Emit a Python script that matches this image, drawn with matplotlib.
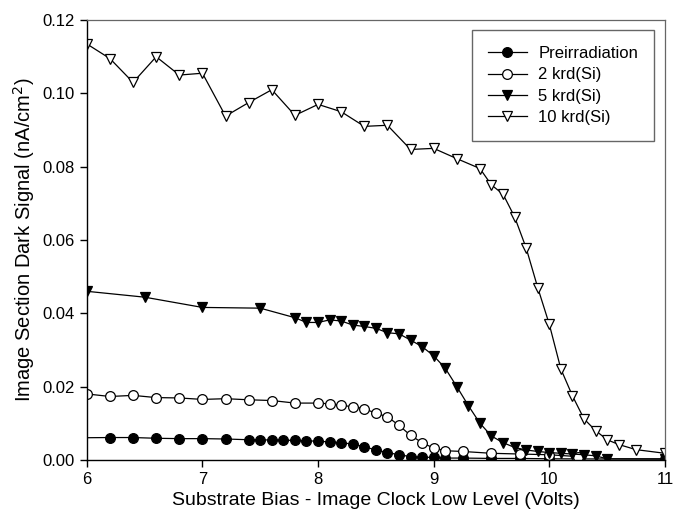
import matplotlib
matplotlib.use("Agg")
import matplotlib.pyplot as plt
from matplotlib.ticker import FormatStrFormatter

plt.rcParams['font.family'] = ['Liberation Sans', 'DejaVu Sans']

# Preirradiation
x_pre = [5.8, 6.2, 6.4, 6.6, 6.8, 7.0, 7.2, 7.4, 7.5, 7.6, 7.7, 7.8, 7.9, 8.0, 8.1, 8.2,
         8.3, 8.4, 8.5, 8.6, 8.7, 8.8, 8.9, 9.0, 9.1, 9.25, 9.5, 9.75, 10.0, 11.0]
y_pre = [0.0060, 0.0061, 0.0061, 0.0059, 0.0058, 0.0058, 0.0057, 0.0055, 0.0055, 0.0054,
         0.0054, 0.0053, 0.0052, 0.0051, 0.0049, 0.0047, 0.0043, 0.0036, 0.0027, 0.0020,
         0.0014, 0.0009, 0.0007, 0.0007, 0.0005, 0.0005, 0.0004, 0.0004, 0.0003, 0.0002]

# 2 krd(Si)
x_2k = [6.0, 6.2, 6.4, 6.6, 6.8, 7.0, 7.2, 7.4, 7.6, 7.8, 8.0, 8.1, 8.2, 8.3, 8.4, 8.5,
        8.6, 8.7, 8.8, 8.9, 9.0, 9.1, 9.25, 9.5, 9.75, 10.0, 10.25]
y_2k = [0.0180, 0.0173, 0.0176, 0.0170, 0.0169, 0.0165, 0.0167, 0.0164, 0.0162, 0.0155,
        0.0155, 0.0153, 0.0149, 0.0145, 0.0140, 0.0127, 0.0118, 0.0094, 0.0067, 0.0047,
        0.0032, 0.0025, 0.0023, 0.0018, 0.0016, 0.0014, 0.0009]

# 5 krd(Si)
x_5k = [6.0, 6.5, 7.0, 7.5, 7.8, 7.9, 8.0, 8.1, 8.2, 8.3, 8.4, 8.5, 8.6, 8.7, 8.8, 8.9,
        9.0, 9.1, 9.2, 9.3, 9.4, 9.5, 9.6, 9.7, 9.8, 9.9, 10.0, 10.1, 10.2, 10.3, 10.4,
        10.5, 11.0]
y_5k = [0.0460, 0.0444, 0.0416, 0.0414, 0.0388, 0.0375, 0.0375, 0.0382, 0.0379, 0.0368,
        0.0364, 0.0359, 0.0347, 0.0344, 0.0327, 0.0309, 0.0284, 0.0250, 0.0200, 0.0148,
        0.0100, 0.0065, 0.0047, 0.0034, 0.0027, 0.0023, 0.0020, 0.0018, 0.0016, 0.0014,
        0.0011, 0.0003, 0.0003]

# 10 krd(Si)
x_10k = [6.0, 6.2, 6.4, 6.6, 6.8, 7.0, 7.2, 7.4, 7.6, 7.8, 8.0, 8.2, 8.4, 8.6, 8.8, 9.0,
         9.2, 9.4, 9.5, 9.6, 9.7, 9.8, 9.9, 10.0, 10.1, 10.2, 10.3, 10.4, 10.5, 10.6,
         10.75, 11.0]
y_10k = [0.1135, 0.1095, 0.1030, 0.1100, 0.1050, 0.1055, 0.0938, 0.0975, 0.1010, 0.0940,
         0.0970, 0.0950, 0.0910, 0.0913, 0.0847, 0.0850, 0.0822, 0.0795, 0.0750, 0.0725,
         0.0663, 0.0578, 0.0470, 0.0370, 0.0248, 0.0175, 0.0112, 0.0080, 0.0055, 0.0042,
         0.0028, 0.0018]

labels = ["Preirradiation", "2 krd(Si)", "5 krd(Si)", "10 krd(Si)"]
x_ticks = [6, 7, 8, 9, 10, 11]
y_ticks = [0.00, 0.02, 0.04, 0.06, 0.08, 0.10, 0.12]

fig = plt.figure(figsize=(6.73, 5.15), dpi=100)
ax = fig.add_axes([0.129, 0.107, 0.859, 0.854])

common = dict(color='black', linewidth=0.9, markeredgecolor='black', markeredgewidth=0.9)
ax.plot(x_pre, y_pre, marker='o', markersize=7, markerfacecolor='black', label=labels[0], **common)
ax.plot(x_2k, y_2k, marker='o', markersize=7, markerfacecolor='white', label=labels[1], **common)
ax.plot(x_5k, y_5k, marker='v', markersize=7.5, markerfacecolor='black', label=labels[2], **common)
ax.plot(x_10k, y_10k, marker='v', markersize=7.5, markerfacecolor='white', label=labels[3], **common)

ax.set_xlim(6, 11)
ax.set_ylim(0, 0.12)
ax.set_xticks(x_ticks)
ax.set_yticks(y_ticks)
ax.yaxis.set_major_formatter(FormatStrFormatter('%.2f'))
ax.tick_params(direction='out', length=5, width=1, labelsize=12, colors='black')
ax.tick_params(axis='x', pad=4)

for s in ('top', 'right'):
    ax.spines[s].set_color('#666666')
    ax.spines[s].set_linewidth(0.9)
ax.spines['left'].set_linewidth(1)
ax.spines['bottom'].set_linewidth(1)

ax.set_xlabel("Substrate Bias - Image Clock Low Level (Volts)", fontsize=14, labelpad=3)
ax.set_ylabel("Image Section Dark Signal (nA/cm$^2$)", fontsize=14.5, labelpad=4)

leg = ax.legend(loc='upper right', bbox_to_anchor=(0.981, 0.977), borderaxespad=0,
                fontsize=12, frameon=True, fancybox=False, edgecolor='#666666',
                framealpha=1, handlelength=2.3, borderpad=0.95, labelspacing=0.38,
                handletextpad=0.7)
leg.get_frame().set_linewidth(1)

fig.savefig("out.png", dpi=100)
